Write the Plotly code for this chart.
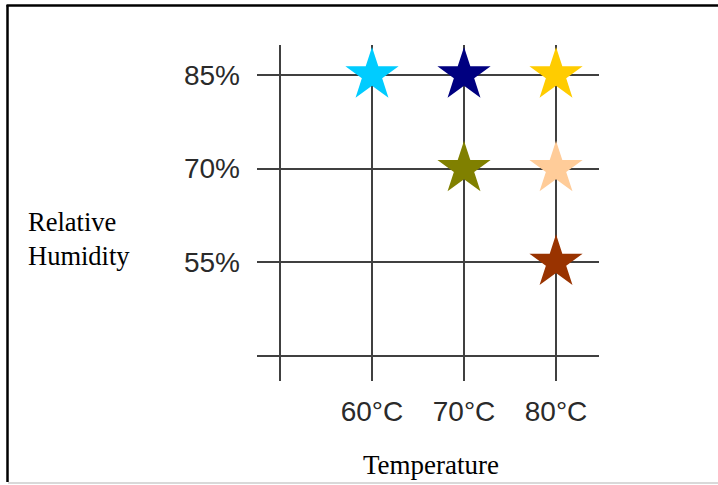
import plotly.graph_objects as go

# Data
temps = [60, 70, 80, 70, 80, 80]
humidity = [85, 85, 85, 70, 70, 55]
colors = ["#00CCFF", "#000080", "#FFCC00", "#808000", "#FFCC99", "#993300"]

x_tickvals = [50, 60, 70, 80]
x_ticktext = ["", "60°C", "70°C", "80°C"]
y_tickvals = [40, 55, 70, 85]
y_ticktext = ["", "55%", "70%", "85%"]

W, H = 718, 485
L, R, T, B = 257, 599, 45, 381  # plot area pixel bounds


def px(xp):
    return (xp - L) / (R - L)


def py(yp):
    return (B - yp) / (B - T)


fig = go.Figure()
fig.add_trace(go.Scatter(
    x=temps, y=humidity, mode="markers",
    marker=dict(symbol="star", size=40, color=colors, line=dict(width=0)),
    hoverinfo="x+y", showlegend=False,
))

fig.update_layout(
    width=W, height=H,
    margin=dict(l=L, r=W - R, t=T, b=H - B, pad=0),
    paper_bgcolor="white", plot_bgcolor="white",
    xaxis=dict(
        range=[47.5, 84.67], tickvals=x_tickvals, ticktext=x_ticktext,
        showgrid=True, gridcolor="#404040", gridwidth=2,
        zeroline=False, showline=False, ticks="",
        tickfont=dict(family="Liberation Sans", size=28, color="#2a2a2a"),
        ticklabelstandoff=11, fixedrange=True,
    ),
    yaxis=dict(
        range=[36.0, 89.8], tickvals=y_tickvals, ticktext=y_ticktext,
        showgrid=True, gridcolor="#404040", gridwidth=2,
        zeroline=False, showline=False, ticks="",
        tickfont=dict(family="Liberation Sans", size=28, color="#2a2a2a"),
        ticklabelstandoff=16, fixedrange=True,
    ),
    annotations=[
        dict(text="Relative<br>Humidity", xref="paper", yref="paper",
             x=px(26), y=py(239), xanchor="left", yanchor="middle", align="left",
             showarrow=False,
             font=dict(family="Liberation Serif", size=26.5, color="#000000")),
        dict(text="Temperature", xref="paper", yref="paper",
             x=px(431), y=py(465), xanchor="center", yanchor="middle",
             showarrow=False,
             font=dict(family="Liberation Serif", size=27, color="#000000")),
    ],
    shapes=[
        dict(type="line", xref="paper", yref="paper", x0=px(6.5), x1=px(718),
             y0=py(5.5), y1=py(5.5), line=dict(color="#000000", width=2.5)),
        dict(type="line", xref="paper", yref="paper", x0=px(7.5), x1=px(7.5),
             y0=py(5), y1=py(482), line=dict(color="#000000", width=2.5)),
        dict(type="line", xref="paper", yref="paper", x0=px(8), x1=px(718),
             y0=py(483), y1=py(483), line=dict(color="#CCCCCC", width=1.5)),
    ],
)

fig.write_html(
    "out.html",
    config={"displayModeBar": False},
    post_script="document.body.style.margin='0';document.body.style.overflow='hidden';",
)
